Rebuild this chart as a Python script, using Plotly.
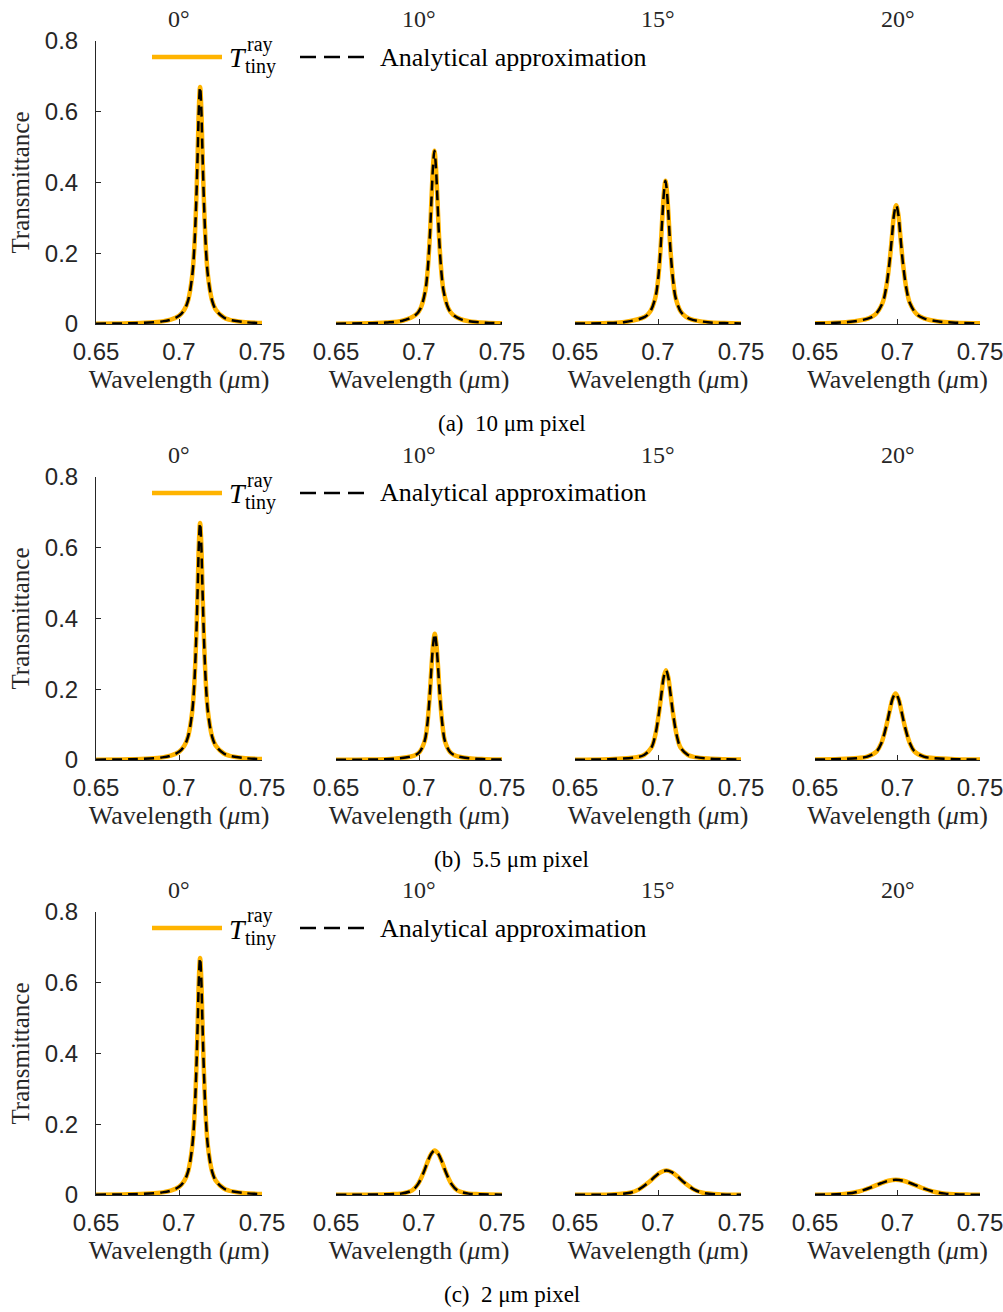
import plotly.graph_objects as go

# ---------------- data ----------------
angles = ["0°", "10°", "15°", "20°"]
captions = ["(a)  10 μm pixel", "(b)  5.5 μm pixel", "(c)  2 μm pixel"]
x_tickvals = [0.65, 0.7, 0.75]
x_ticktext = ["0.65", "0.7", "0.75"]
y_tickvals = [0, 0.2, 0.4, 0.6, 0.8]
y_ticktext = ["0", "0.2", "0.4", "0.6", "0.8"]

# 0 deg (identical for all three pixel sizes)
wl_0 = [0.65, 0.67, 0.69, 0.695, 0.70, 0.7031, 0.7055, 0.7079, 0.7091, 0.7103, 0.7113, 0.7120,
        0.7127, 0.7134, 0.7141, 0.7151, 0.7163, 0.7175, 0.7199, 0.7223, 0.727, 0.73, 0.74, 0.75]
T_0 = [0.0010, 0.0021, 0.0074, 0.0121, 0.0231, 0.0394, 0.067, 0.134, 0.206, 0.335, 0.492, 0.614,
       0.67, 0.614, 0.492, 0.335, 0.206, 0.134, 0.067, 0.0394, 0.0184, 0.0126, 0.0051, 0.0028]

# (a) 10 um pixel
wl_a10 = [0.65, 0.67, 0.68, 0.69, 0.6981, 0.7009, 0.7037, 0.7051, 0.7065, 0.7076, 0.7085, 0.7093,
          0.7101, 0.7110, 0.7121, 0.7135, 0.7149, 0.7177, 0.7205, 0.725, 0.73, 0.74, 0.75]
T_a10 = [0.0010, 0.0022, 0.0040, 0.0091, 0.026, 0.044, 0.091, 0.146, 0.245, 0.363, 0.450, 0.49,
         0.450, 0.363, 0.245, 0.146, 0.091, 0.044, 0.026, 0.0136, 0.0079, 0.0036, 0.0021]
wl_a15 = [0.65, 0.67, 0.68, 0.6921, 0.6952, 0.6983, 0.6999, 0.7014, 0.7026, 0.7036, 0.7045, 0.7054,
          0.7064, 0.7076, 0.7092, 0.7107, 0.7138, 0.7169, 0.72, 0.73, 0.74, 0.75]
T_a15 = [0.0011, 0.0028, 0.0054, 0.0203, 0.0344, 0.0725, 0.119, 0.2025, 0.3005, 0.3726, 0.405, 0.3726,
         0.3005, 0.2025, 0.119, 0.0725, 0.0344, 0.0203, 0.0132, 0.0050, 0.0026, 0.0016]
wl_a20 = [0.65, 0.66, 0.67, 0.6824, 0.6866, 0.6908, 0.6929, 0.6950, 0.6967, 0.6979, 0.6992, 0.7005,
          0.7017, 0.7034, 0.7055, 0.7076, 0.7118, 0.7160, 0.725, 0.735, 0.75]
T_a20 = [0.0019, 0.0031, 0.0055, 0.0158, 0.0269, 0.058, 0.0968, 0.168, 0.25, 0.3095, 0.336, 0.3095,
         0.25, 0.168, 0.0968, 0.058, 0.0269, 0.0158, 0.0070, 0.0037, 0.0018]

# (b) 5.5 um pixel
wl_b10 = [0.65, 0.67, 0.685, 0.6971, 0.7002, 0.7033, 0.7049, 0.7064, 0.7076, 0.7086, 0.7095, 0.7104,
          0.7114, 0.7126, 0.7142, 0.7157, 0.7188, 0.7219, 0.73, 0.74, 0.75]
T_b10 = [0.0006, 0.0013, 0.0034, 0.0125, 0.0218, 0.0518, 0.096, 0.1785, 0.2688, 0.3306, 0.357, 0.3306,
         0.2688, 0.1785, 0.096, 0.0518, 0.0218, 0.0125, 0.0048, 0.0022, 0.0012]
wl_b15 = [0.65, 0.67, 0.6872, 0.6916, 0.6960, 0.6982, 0.7004, 0.7022, 0.7035, 0.7048, 0.7061, 0.7074,
          0.7092, 0.7114, 0.7136, 0.7180, 0.7224, 0.73, 0.74, 0.75]
T_b15 = [0.0009, 0.0022, 0.0081, 0.0142, 0.035, 0.0671, 0.127, 0.1918, 0.2355, 0.254, 0.2355, 0.1918,
         0.127, 0.0671, 0.035, 0.0142, 0.0081, 0.0042, 0.0022, 0.0013]
wl_b20 = [0.65, 0.665, 0.676, 0.6817, 0.6874, 0.6903, 0.6931, 0.6954, 0.6971, 0.6988, 0.7005, 0.7022,
          0.7045, 0.7074, 0.7102, 0.7159, 0.7216, 0.735, 0.75]
T_b20 = [0.0013, 0.0026, 0.0055, 0.0096, 0.0246, 0.0487, 0.094, 0.1423, 0.1745, 0.188, 0.1745, 0.1423,
         0.094, 0.0487, 0.0246, 0.0096, 0.0055, 0.0023, 0.0012]

# (c) 2 um pixel
wl_c10 = [0.65, 0.665, 0.6823, 0.6891, 0.6959, 0.6993, 0.7027, 0.7054, 0.7075, 0.7095, 0.7115, 0.7136,
          0.7163, 0.7197, 0.7231, 0.7299, 0.7367, 0.75]
T_c10 = [0.0005, 0.0009, 0.0023, 0.0039, 0.0131, 0.0301, 0.063, 0.0965, 0.1174, 0.126, 0.1174, 0.0965,
         0.063, 0.0301, 0.0131, 0.0039, 0.0023, 0.0010]
wl_c15 = [0.65, 0.661, 0.672, 0.683, 0.6885, 0.694, 0.6984, 0.7017, 0.705, 0.7083, 0.7116, 0.716,
          0.7215, 0.727, 0.738, 0.75]
T_c15 = [0.0005, 0.0008, 0.0015, 0.0062, 0.0159, 0.0345, 0.0531, 0.0644, 0.069, 0.0644, 0.0531, 0.0345,
         0.0159, 0.0062, 0.0015, 0.0008]
wl_c20 = [0.65, 0.669, 0.6765, 0.684, 0.69, 0.6945, 0.699, 0.7035, 0.708, 0.714, 0.7215, 0.729, 0.744, 0.75]
T_c20 = [0.0008, 0.0039, 0.0099, 0.0215, 0.0331, 0.0402, 0.043, 0.0402, 0.0331, 0.0215, 0.0099, 0.0039,
         0.0009, 0.0007]

# ray-traced curves and analytical approximation (they coincide in the picture)
wavelengths = [[wl_0, wl_a10, wl_a15, wl_a20],
               [wl_0, wl_b10, wl_b15, wl_b20],
               [wl_0, wl_c10, wl_c15, wl_c20]]
T_ray = [[T_0, T_a10, T_a15, T_a20],
         [T_0, T_b10, T_b15, T_b20],
         [T_0, T_c10, T_c15, T_c20]]
T_analytic = [[list(v) for v in row] for row in T_ray]

legend_names = ["T_tiny^ray", "Analytical approximation"]

# ---------------- styling / layout ----------------
W, H = 1003, 1312
ORANGE = "#FFB400"
AX = "#262626"
SERIF = "Liberation Serif, Times New Roman, serif"
SANS = "Liberation Sans, Arial, sans-serif"

col_px = [(96, 262), (336, 502), (575, 741), (815, 980)]
row_px = [(41, 324), (477, 760), (912, 1195)]


def px(x):
    return x / W


def py(y):
    return 1 - y / H


fig = go.Figure()
layout = dict(width=W, height=H, margin=dict(l=0, r=0, t=0, b=0, autoexpand=False),
              paper_bgcolor="white", plot_bgcolor="white", showlegend=False)
annotations = []
shapes = []

for r in range(3):
    for c in range(4):
        k = r * 4 + c + 1
        xa = "x" if k == 1 else f"x{k}"
        ya = "y" if k == 1 else f"y{k}"
        fig.add_trace(go.Scatter(x=wavelengths[r][c], y=T_ray[r][c], mode="lines",
                                 name=legend_names[0], xaxis=xa, yaxis=ya,
                                 line=dict(color=ORANGE, width=4.5, shape="spline", smoothing=1.0)))
        fig.add_trace(go.Scatter(x=wavelengths[r][c], y=T_analytic[r][c], mode="lines",
                                 name=legend_names[1], xaxis=xa, yaxis=ya,
                                 line=dict(color="black", width=2.5, shape="spline", smoothing=1.0,
                                           dash="10px,6px")))
        x0, x1 = col_px[c]
        y0, y1 = row_px[r]
        xkey = "xaxis" if k == 1 else f"xaxis{k}"
        ykey = "yaxis" if k == 1 else f"yaxis{k}"
        layout[xkey] = dict(domain=[px(x0), px(x1)], anchor=ya, range=[0.65, 0.75],
                            tickvals=x_tickvals, ticktext=x_ticktext, automargin=False,
                            ticklabeloverflow="allow",
                            showline=True, linecolor=AX, linewidth=1, mirror=False,
                            ticks="inside", ticklen=5, tickcolor=AX, tickwidth=1,
                            showgrid=False, zeroline=False, ticklabelstandoff=6,
                            tickfont=dict(family=SANS, size=24, color=AX),
                            title=dict(text="Wavelength (<i>μ</i>m)", standoff=4,
                                       font=dict(family=SERIF, size=26, color=AX)))
        ydict = dict(domain=[py(y1), py(y0)], anchor=xa, range=[0, 0.8], automargin=False,
                     showgrid=False, zeroline=False)
        if c == 0:
            ydict.update(tickvals=y_tickvals, ticktext=y_ticktext, showline=True, linecolor=AX,
                         linewidth=1, ticks="inside", ticklen=5, tickcolor=AX, tickwidth=1,
                         ticklabelstandoff=12, ticklabeloverflow="allow",
                         tickfont=dict(family=SANS, size=24, color=AX),
                         title=dict(text="Transmittance", standoff=8,
                                    font=dict(family=SERIF, size=25, color=AX)))
        else:
            ydict.update(visible=False)
        layout[ykey] = ydict

        # column title
        annotations.append(dict(text=angles[c], x=px((x0 + x1) / 2), y=py(y0 - 22),
                                xref="paper", yref="paper", showarrow=False,
                                font=dict(family=SERIF, size=24, color=AX),
                                xanchor="center", yanchor="middle"))

    # caption below each row
    annotations.append(dict(text=captions[r], x=px(512), y=py(row_px[r][1] + 99),
                            xref="paper", yref="paper", showarrow=False,
                            font=dict(family=SERIF, size=23, color="black"),
                            xanchor="center", yanchor="middle"))

    # legend drawn in the upper part of each row
    dy = row_px[r][0] - 41
    ly = 57 + dy
    shapes.append(dict(type="line", xref="paper", yref="paper", x0=px(152), x1=px(222),
                       y0=py(ly), y1=py(ly), line=dict(color=ORANGE, width=4.5)))
    shapes.append(dict(type="line", xref="paper", yref="paper", x0=px(300), x1=px(372),
                       y0=py(ly), y1=py(ly), line=dict(color="black", width=2.5, dash="16px,8px")))
    annotations.append(dict(text="<i>T</i>", x=px(227), y=py(ly + 1), xref="paper", yref="paper",
                            showarrow=False, xanchor="left", yanchor="middle",
                            font=dict(family=SERIF, size=28, color="black")))
    annotations.append(dict(text="ray", x=px(245), y=py(ly - 13), xref="paper", yref="paper",
                            showarrow=False, xanchor="left", yanchor="middle",
                            font=dict(family=SERIF, size=20, color="black")))
    annotations.append(dict(text="tiny", x=px(243), y=py(ly + 10), xref="paper", yref="paper",
                            showarrow=False, xanchor="left", yanchor="middle",
                            font=dict(family=SERIF, size=20, color="black")))
    annotations.append(dict(text="Analytical approximation", x=px(378), y=py(ly), xref="paper",
                            yref="paper", showarrow=False, xanchor="left", yanchor="middle",
                            font=dict(family=SERIF, size=26, color="black")))

layout["annotations"] = annotations
layout["shapes"] = shapes
fig.update_layout(**layout)
fig.write_html("out.html", config={"displayModeBar": False},
               post_script="document.body.style.margin='0';document.body.style.padding='0';")
